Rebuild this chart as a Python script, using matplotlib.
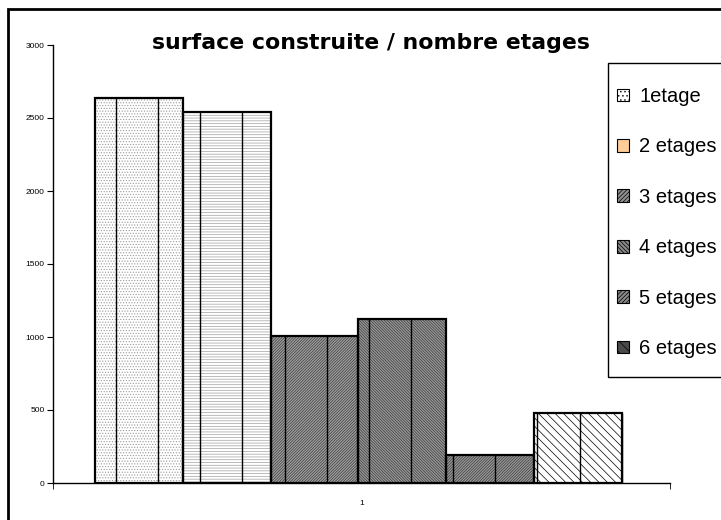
import numpy as np
import matplotlib
matplotlib.use("Agg")
import matplotlib.pyplot as plt
from matplotlib.patches import Patch, Rectangle

plt.rcParams['font.family'] = ['Liberation Sans', 'DejaVu Sans']
plt.rcParams['hatch.linewidth'] = 0.5

# data
labels = ["1etage", "2 etages", "3 etages", "4 etages", "5 etages", "6 etages"]
surface = [2640, 2540, 1010, 1125, 190, 480]
category = ["1"]

# bar styles (face, hatch, hatch colour) and legend swatch colours
faces = ["white", "white", "#a0a0a0", "#9a9a9a", "#9a9a9a", "white"]
hatches = ["......", "------", "////////////", "\\\\\\\\\\\\\\\\\\\\\\\\", "////////////", "\\\\\\\\"]
hatch_cols = ["#9a9a9a", "#a0a0a0", "#3a3a3a", "#3a3a3a", "#3a3a3a", "black"]
legend_faces = ["white", "#ffcc99", "#909090", "#888888", "#888888", "#4a4a4a"]
legend_hatches = ["....", None, "////////", "\\\\\\\\\\\\\\\\", "////////", "\\\\\\"]

fig = plt.figure(figsize=(7.21, 5.2), dpi=100)
ax = fig.add_axes([53 / 721, 1 - 483 / 520, 617 / 721, 438 / 520])

group = 0.854
w = group / len(surface)
x = -0.005 - group / 2 + w * (np.arange(len(surface)) + 0.5)

for i in range(len(surface)):
    ax.bar(x[i], surface[i], w, color=faces[i], hatch=hatches[i],
           edgecolor=hatch_cols[i], linewidth=0, zorder=2)
ax.bar(x, surface, w, fill=False, edgecolor="black", linewidth=1.6, zorder=3)

# thin vertical lines seen through the patterned fills
step = w * 0.48
for xv in np.arange(x[0] - w / 2 + 0.034, x[-1] + w / 2, step):
    k = int((xv - (x[0] - w / 2)) // w)
    if 0 <= k < len(surface):
        ax.vlines(xv, 0, surface[k], color="black", linewidth=1.0, zorder=3)

ax.set_xlim(-0.5, 0.5)
ax.set_ylim(0, 3000)
ax.set_yticks(range(0, 3001, 500))
ax.set_xticks([0])
ax.set_xticklabels(category)
ax.tick_params(axis="x", length=0, labelsize=6, pad=12)
ax.tick_params(axis="y", direction="out", length=4, labelsize=6, pad=2)
ax.set_xticks([-0.5, 0.5], minor=True)
ax.tick_params(axis="x", which="minor", direction="out", length=4)
for s in ["top", "right"]:
    ax.spines[s].set_visible(False)
ax.spines["left"].set_linewidth(1.0)
ax.spines["bottom"].set_linewidth(1.0)

fig.text(371 / 721, 1 - 43 / 520, "surface construite / nombre etages",
         ha="center", va="center", fontsize=15.8, fontweight="bold",
         family="DejaVu Sans")

handles = [Patch(facecolor=legend_faces[i], edgecolor="black",
                 hatch=legend_hatches[i], linewidth=0.8) for i in range(len(labels))]
leg = fig.legend(handles, labels, loc="upper left",
                 bbox_to_anchor=(617 / 721, 1 - 87 / 520),
                 fontsize=14.5, frameon=False,
                 handlelength=0.6, handleheight=0.6,
                 handletextpad=0.5, labelspacing=1.56, borderpad=0,
                 borderaxespad=0)

# legend frame (runs off the right edge like the original)
fig.patches.append(Rectangle((608 / 721, 1 - 377 / 520), 0.2, 314 / 520,
                             transform=fig.transFigure, fill=False,
                             edgecolor="black", linewidth=1.0))

# chart border
fig.patches.append(Rectangle((8 / 721, -0.1), 1.2, 1.1 - 9 / 520,
                             transform=fig.transFigure, fill=False,
                             edgecolor="black", linewidth=2))

fig.savefig("out.png", dpi=100)
